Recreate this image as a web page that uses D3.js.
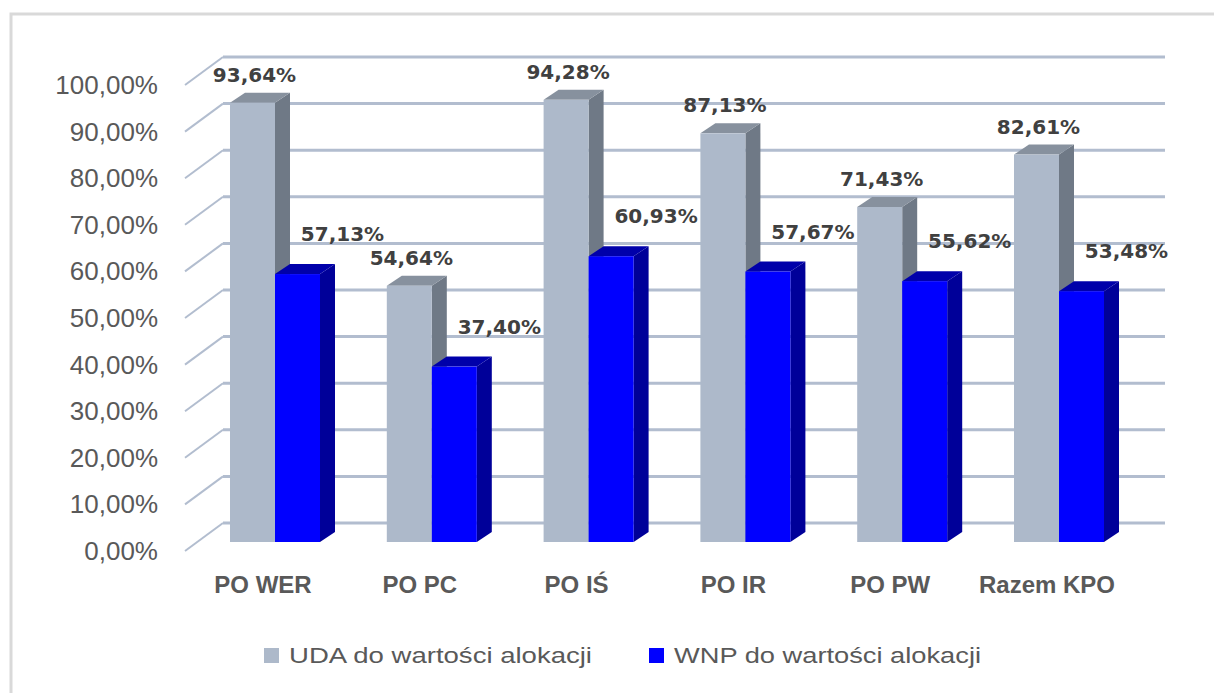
<!DOCTYPE html>
<html>
<head>
<meta charset="utf-8">
<script src="https://cdn.jsdelivr.net/npm/d3@7"></script>
<style>
  html, body { margin: 0; padding: 0; background: #fff; }
  svg { display: block; }
</style>
</head>
<body>
<div id="chart"></div>
<script>
// Values (percent)
const categories = ['PO WER', 'PO PC', 'PO IŚ', 'PO IR', 'PO PW', 'Razem KPO'];
const udaValues = [93.64, 54.64, 94.28, 87.13, 71.43, 82.61];
const wnpValues = [57.13, 37.40, 60.93, 57.67, 55.62, 53.48];
const seriesNames = ['UDA do wartości alokacji', 'WNP do wartości alokacji'];
const yTicks = [0, 10, 20, 30, 40, 50, 60, 70, 80, 90, 100];

const width = 1214, height = 693;

// 3D look: each series has a front, top and side colour
const palette = [
  { front: '#adb9ca', top: '#87919e', side: '#6f7986' },
  { front: '#0000ff', top: '#0000aa', side: '#000099' },
];

const plLocale = d3.formatLocale({ decimal: ',', thousands: ' ', grouping: [3], currency: ['', ' zł'] });
const fmtPct = v => plLocale.format('.2f')(v) + '%';

const svg = d3.select('#chart').append('svg')
  .attr('width', width)
  .attr('height', height);

svg.append('rect').attr('width', width).attr('height', height).attr('fill', '#fff');

// outer frame (only top and left edges are inside the picture)
svg.append('rect')
  .attr('x', 11).attr('y', 14)
  .attr('width', 1400).attr('height', 900)
  .attr('fill', 'none')
  .attr('stroke', '#d9d9d9')
  .attr('stroke-width', 3);

// back wall scale and front (bar face) scale
const yBack = d3.scaleLinear().domain([0, 100]).range([523, 57]);
const yFront = d3.scaleLinear().domain([0, 100]).range([542, 73]);
const wallDepth = { dx: 38, dy: 28 };   // left wall: front edge is left-down of the back wall
const barDepth = { dx: 15, dy: -10 };

const x = d3.scaleBand().domain(categories).range([230, 1104]).paddingInner(0.426).paddingOuter(0);
const xSub = d3.scaleBand().domain([0, 1]).range([0, x.bandwidth()]);

// gridlines on back wall + left wall diagonals
const grid = svg.append('g').attr('stroke', '#b2bdcf').attr('fill', 'none');
grid.selectAll('line.back')
  .data(yTicks)
  .join('line')
  .attr('class', 'back')
  .attr('x1', 223).attr('x2', 1165)
  .attr('y1', d => yBack(d)).attr('y2', d => yBack(d))
  .attr('stroke-width', 3);
grid.selectAll('line.side')
  .data(yTicks)
  .join('line')
  .attr('class', 'side')
  .attr('x1', 223 - wallDepth.dx).attr('x2', 223)
  .attr('y1', d => yBack(d) + wallDepth.dy).attr('y2', d => yBack(d))
  .attr('stroke-width', 2);

// y tick labels
svg.append('g')
  .attr('font-family', '"Liberation Sans", Arial, sans-serif')
  .attr('font-size', 26)
  .attr('fill', '#595959')
  .attr('text-anchor', 'end')
  .selectAll('text')
  .data(yTicks)
  .join('text')
  .attr('x', 158)
  .attr('y', d => yBack(d) + wallDepth.dy + 9)
  .text(d => fmtPct(d));

// bars
const rows = categories.map((c, i) => ({ cat: c, vals: [udaValues[i], wnpValues[i]] }));

const bars = svg.append('g');
rows.forEach(r => {
  r.vals.forEach((v, s) => {
    const x0 = x(r.cat) + xSub(s);
    const w = xSub.bandwidth();
    const yt = yFront(v), yb = yFront(0);
    const g = bars.append('g');
    const c = palette[s];
    // side face
    g.append('path')
      .attr('d', `M${x0 + w},${yt} L${x0 + w + barDepth.dx},${yt + barDepth.dy} L${x0 + w + barDepth.dx},${yb + barDepth.dy} L${x0 + w},${yb} Z`)
      .attr('fill', c.side);
    // top face
    g.append('path')
      .attr('d', `M${x0},${yt} L${x0 + barDepth.dx},${yt + barDepth.dy} L${x0 + w + barDepth.dx},${yt + barDepth.dy} L${x0 + w},${yt} Z`)
      .attr('fill', c.top);
    // front face
    g.append('rect')
      .attr('x', x0).attr('y', yt)
      .attr('width', w).attr('height', yb - yt)
      .attr('fill', c.front);
  });
});

// data labels
const labelOffset = [{ dx: 2, dy: -21 }, { dx: 45, dy: -33 }];
const labels = svg.append('g')
  .attr('font-family', '"DejaVu Sans", Verdana, sans-serif')
  .attr('font-weight', 'bold')
  .attr('font-size', 20)
  .attr('fill', '#404040')
  .attr('text-anchor', 'middle');
rows.forEach(r => {
  r.vals.forEach((v, s) => {
    const cx = x(r.cat) + xSub(s) + xSub.bandwidth() / 2;
    labels.append('text')
      .attr('x', cx + labelOffset[s].dx)
      .attr('y', yFront(v) + labelOffset[s].dy)
      .text(fmtPct(v));
  });
});

// category labels
svg.append('g')
  .attr('font-family', '"Liberation Sans", Arial, sans-serif')
  .attr('font-weight', 'bold')
  .attr('font-size', 24)
  .attr('fill', '#595959')
  .attr('text-anchor', 'middle')
  .selectAll('text')
  .data(categories)
  .join('text')
  .attr('x', d => x(d) + x.bandwidth() / 2 - 12)
  .attr('y', 593)
  .text(d => d);

// legend
const legendItems = [
  { name: seriesNames[0], color: palette[0].front, x: 264, len: 303 },
  { name: seriesNames[1], color: palette[1].front, x: 649, len: 307 },
];
const legend = svg.append('g')
  .attr('font-family', '"Liberation Sans", Arial, sans-serif')
  .attr('font-size', 22)
  .attr('fill', '#595959');
legend.selectAll('rect')
  .data(legendItems)
  .join('rect')
  .attr('x', d => d.x).attr('y', 648)
  .attr('width', 15).attr('height', 15)
  .attr('fill', d => d.color);
legend.selectAll('text')
  .data(legendItems)
  .join('text')
  .attr('x', d => d.x + 25)
  .attr('y', 663)
  .attr('textLength', d => d.len)
  .attr('lengthAdjust', 'spacingAndGlyphs')
  .text(d => d.name);
</script>
</body>
</html>
